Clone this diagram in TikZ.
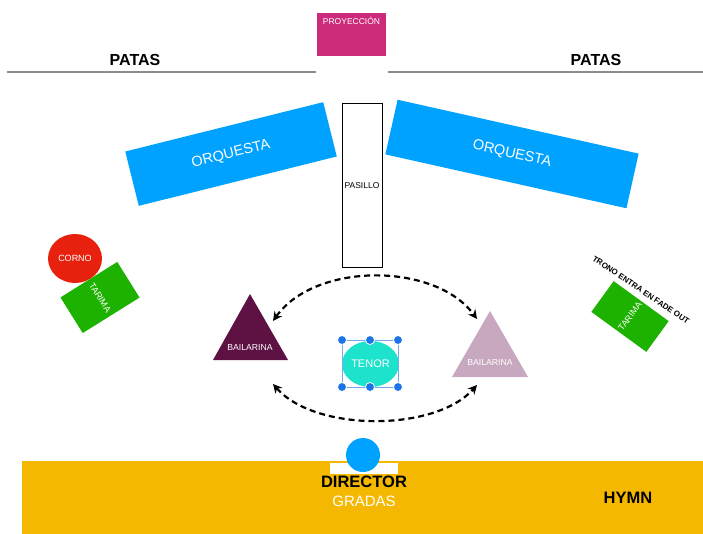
\documentclass[tikz,border=0pt]{standalone}
\usepackage{fontspec}
\setmainfont{Liberation Sans}
\usetikzlibrary{arrows.meta,shapes.geometric}
\definecolor{proj}{HTML}{CC2A7A}
\definecolor{orq}{HTML}{00A2FF}
\definecolor{corno}{HTML}{E8210E}
\definecolor{tarima}{HTML}{1DB100}
\definecolor{bdark}{HTML}{5E1143}
\definecolor{blight}{HTML}{C8A8BE}
\definecolor{tenor}{HTML}{1DE2CC}
\definecolor{handle}{HTML}{1A73E8}
\definecolor{gradas}{HTML}{F5B800}
\definecolor{lgray}{HTML}{8C8C8C}
\tikzset{
  lbl/.style={font=\fontsize{#1}{#1}\selectfont, inner sep=0pt},
  blbl/.style={font=\fontsize{#1}{#1}\selectfont\bfseries, inner sep=0pt},
  orqbox/.style={fill=orq, minimum width=#1, minimum height=56pt, inner sep=0pt, text=white, font=\fontsize{14.5}{14.5}\selectfont},
  tarbox/.style={fill=tarima, inner sep=0pt, text=white, font=\fontsize{9}{9}\selectfont},
  hdl/.style={circle, fill=handle, draw=white, line width=0.8pt, minimum size=9pt, inner sep=0pt},
  dasharc/.style={draw=black, line width=2.2pt, dash pattern=on 6pt off 4pt, {Stealth[length=9pt,width=9pt]}-{Stealth[length=9pt,width=9pt]}},
}
\begin{document}
\begin{tikzpicture}[x=1pt,y=-1pt]
\useasboundingbox (0,0) rectangle (703,534);
% projection
\node[fill=proj, minimum width=69pt, minimum height=43pt, inner sep=0pt] (proy) at (351.5,34.5) {};
\node[lbl=8.5, text=white] (proyt) at (351.5,21) {PROYECCIÓN};
% patas lines
\coordinate (l1) at (7,72); \coordinate (l2) at (316,72);
\coordinate (r1) at (388,72); \coordinate (r2) at (703,72);
\draw[lgray, line width=1.4pt] (l1) -- (l2);
\draw[lgray, line width=1.4pt] (r1) -- (r2);
\node[blbl=16] (patasl) at (135,60) {PATAS};
\node[blbl=16] (patasr) at (596,60) {PATAS};
% orquesta
\node[orqbox=204pt, rotate=14] (orql) at (231,154) {ORQUESTA};
\node[orqbox=247pt, rotate=-12.6] (orqr) at (512,154) {ORQUESTA};
% pasillo
\node[draw=black, line width=0.6pt, fill=white, minimum width=40pt, minimum height=164pt, inner sep=0pt] (pas) at (362,185) {};
\node[lbl=8.5] (past) at (362,186) {PASILLO};
% corno
\node[ellipse, fill=corno, minimum width=54pt, minimum height=49pt, inner sep=0pt, text=white, font=\fontsize{9}{9}\selectfont] (corno) at (75,258.5) {CORNO};
% tarimas
\node[tarbox, rotate=-58, minimum width=42pt, minimum height=67pt] (tarl) at (100,297.5) {TARIMA};
\node[tarbox, rotate=54, minimum width=38pt, minimum height=68pt] (tarr) at (630,316.5) {TARIMA};
\node[blbl=8, rotate=-34] (trono) at (641,290) {TRONO ENTRA EN FADE OUT};
% bailarinas
\coordinate (bl1) at (250,294); \coordinate (bl2) at (288,360); \coordinate (bl3) at (213,360);
\fill[bdark] (bl1) -- (bl2) -- (bl3) -- cycle;
\node[lbl=8.7, text=white] (bailt1) at (250,348) {BAILARINA};
\coordinate (br1) at (490,311); \coordinate (br2) at (528,377); \coordinate (br3) at (452,377);
\fill[blight] (br1) -- (br2) -- (br3) -- cycle;
\node[lbl=8.7, text=white] (bailt2) at (490,363) {BAILARINA};
% tenor
\node[ellipse, fill=tenor, minimum width=57pt, minimum height=46pt, inner sep=0pt, text=white, font=\fontsize{11}{11}\selectfont] (tenor) at (370.5,364) {TENOR};
\coordinate (s1) at (342,340); \coordinate (s3) at (398,387);
\draw[handle!60, line width=0.7pt] (s1) rectangle (s3);
\node[hdl] (h1) at (342,340) {};
\node[hdl] (h2) at (370,340) {};
\node[hdl] (h3) at (398,340) {};
\node[hdl] (h4) at (342,387) {};
\node[hdl] (h5) at (370,387) {};
\node[hdl] (h6) at (398,387) {};
% arrows
\coordinate (ua) at (273,321); \coordinate (ub) at (477,319);
\coordinate (la) at (273,384); \coordinate (lb) at (477,385);
\draw[dasharc] (ua) .. controls (315,262) and (435,262) .. (ub);
\draw[dasharc] (la) .. controls (315,432) and (435,432) .. (lb);
% gradas
\fill[gradas] (22,461) rectangle (703,534);
\fill[white] (330,463) rectangle (398,474);
\node[circle, fill=orq, minimum size=34pt, inner sep=0pt] (dir) at (363,455) {};
\node[blbl=16.5] (dirt) at (364,482) {DIRECTOR};
\node[lbl=15, text=white] (grad) at (364,501) {GRADAS};
\node[blbl=16.5] (hymn) at (628,498) {HYMN};
\end{tikzpicture}
\end{document}
